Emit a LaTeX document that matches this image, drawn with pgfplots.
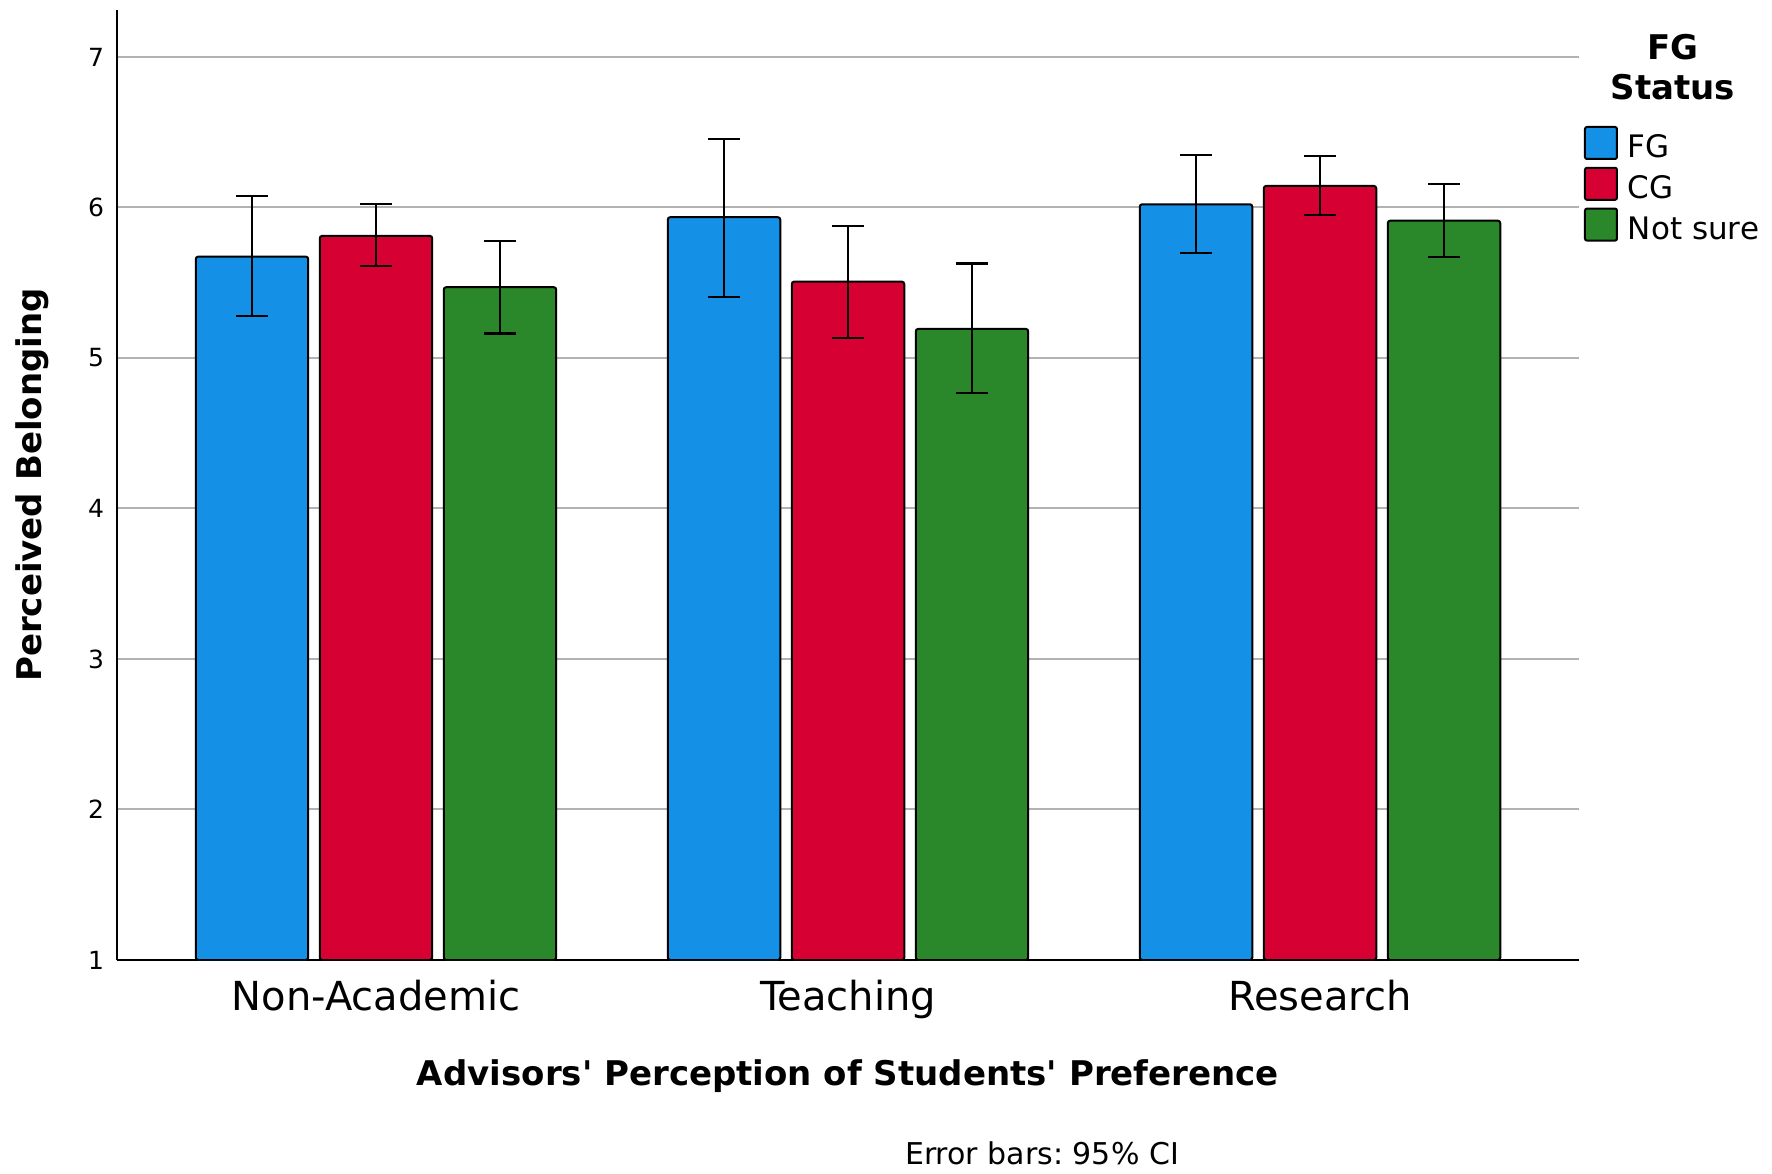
\documentclass[border=0pt]{standalone}
\usepackage{pgfplots}
\pgfplotsset{compat=1.18}
\usepackage{pgfplotstable}
\usepackage{fontspec}
\setmainfont{DejaVu Sans}
\newfontfamily\plainfont{DejaVu Sans}
\frenchspacing
\definecolor{cFG}{RGB}{20,144,230}
\definecolor{cCG}{RGB}{214,0,50}
\definecolor{cNS}{RGB}{42,136,42}
\definecolor{gridc}{RGB}{178,178,178}

\pgfplotstableread{
x y ep em
0 5.673 0.405 0.392
1 5.935 0.518 0.528
2 6.021 0.328 0.321
}\tFG
\pgfplotstableread{
x y ep em
0 5.811 0.214 0.202
1 5.507 0.370 0.374
2 6.143 0.201 0.193
}\tCG
\pgfplotstableread{
x y ep em
0 5.470 0.305 0.308
1 5.193 0.434 0.428
2 5.912 0.244 0.239
}\tNS

\begin{document}
\begin{tikzpicture}
\useasboundingbox (0,0) rectangle (886bp,587bp);
\begin{axis}[
  at={(58.5bp,107bp)}, anchor=south west,
  scale only axis, width=731bp, height=475bp,
  xmin=-0.5487, xmax=2.5487, ymin=1, ymax=7.312,
  axis x line*=bottom, axis y line*=left,
  axis line style={line width=1bp, black},
  ybar, bar width=0.2383,
  xtick={0,1,2}, xticklabels={Non-Academic,Teaching,Research},
  ytick={1,2,3,4,5,6,7},
  major tick length=0pt,
  ymajorgrids, grid style={line width=1bp, gridc},
  /pgf/number format/assume math mode=true,
  yticklabel style={font=\fontsize{12.5bp}{15bp}\selectfont, xshift=-3bp},
  xticklabel style={font=\fontsize{20bp}{24bp}\selectfont, yshift=-6.5bp},
  xlabel={Advisors' Perception of Students' Preference},
  ylabel={Perceived Belonging},
  every axis x label/.style={font=\plainfont\bfseries\fontsize{17bp}{20bp}\selectfont, at={(axis description cs:0.5,-0.122)}, anchor=center},
  every axis y label/.style={font=\plainfont\bfseries\fontsize{17bp}{20bp}\selectfont, at={(axis description cs:-0.0581,0.5)}, rotate=90, anchor=center},
  clip mode=individual,
  legend style={draw=none, fill=none, inner sep=0pt, outer sep=0pt,
    at={(axis description cs:1.0034,0.8779)}, anchor=north west,
    font=\fontsize{15.5bp}{18bp}\selectfont,
    nodes={inner sep=0pt, text height=15.5bp, text depth=4.4bp},
    column sep=5bp, row sep=0pt,
    cells={anchor=base west}},
  legend image code/.code={\draw[#1, draw=black, line width=1bp, rounded corners=1bp] (0bp,-0.5bp) rectangle (16bp,15.5bp);},
  error bars/y dir=both, error bars/y explicit,
  error bars/error bar style={line width=1.1bp, black},
  error bars/error mark options={rotate=90, mark size=8bp, line width=1.1bp, black},
]
\addplot[fill=cFG, draw=black, line width=1bp, rounded corners=1.2bp, bar shift=-0.2627]
  table[x=x, y=y, y error plus=ep, y error minus=em]{\tFG};
\addplot[fill=cCG, draw=black, line width=1bp, rounded corners=1.2bp, bar shift=0]
  table[x=x, y=y, y error plus=ep, y error minus=em]{\tCG};
\addplot[fill=cNS, draw=black, line width=1bp, rounded corners=1.2bp, bar shift=0.2627]
  table[x=x, y=y, y error plus=ep, y error minus=em]{\tNS};
\legend{FG,CG,Not sure}
\node[font=\bfseries\fontsize{17bp}{20bp}\selectfont, anchor=base] at (axis description cs:1.0643,0.9474) {FG};
\node[font=\bfseries\fontsize{17bp}{20bp}\selectfont, anchor=base] at (axis description cs:1.0643,0.9053) {Status};
\node[font=\fontsize{15bp}{18bp}\selectfont, anchor=center] at (axis description cs:0.6327,-0.2032) {Error bars: 95\% CI};
\end{axis}
\end{tikzpicture}
\end{document}
